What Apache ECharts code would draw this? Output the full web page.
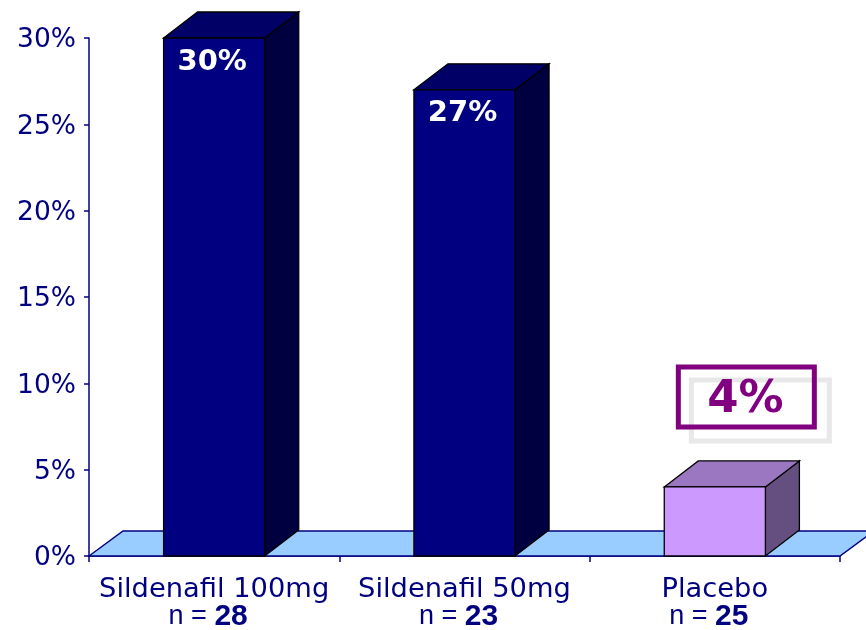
<!DOCTYPE html>
<html><head><meta charset="utf-8">
<script src="https://cdn.jsdelivr.net/npm/echarts@6/dist/echarts.min.js"></script>
<style>html,body{margin:0;padding:0;background:#fff}#c{width:866px;height:630px}</style>
</head><body><div id="c"></div>
<script>
// ---- data ----
const categories = ['Sildenafil 100mg', 'Sildenafil 50mg', 'Placebo'];
const sampleSizes = [28, 23, 25];
const responseRates = [30, 27, 4];
const yMin = 0, yMax = 30, yStep = 5;

// ---- styles ----
const barColors = [
  {front: '#000080', top: '#000066', side: '#000040'},
  {front: '#000080', top: '#000066', side: '#000040'},
  {front: '#CC99FF', top: '#9A77C0', side: '#654E80'}
];
const labelKinds = ['inside', 'inside', 'boxed'];
const DX = 34, DY = -26;
const NAVY = '#000080';

const chart = echarts.init(document.getElementById('c'), null, {renderer: 'canvas'});

function floorItem(params, api) {
  const cs = params.coordSys;
  const x = cs.x, y = cs.y + cs.height, w = cs.width;
  return {
    type: 'polygon',
    shape: {points: [[x, y], [x + DX, y + DY + 1], [x + w + DX, y + DY + 1], [x + w, y]]},
    style: {fill: '#99CCFF', stroke: NAVY, lineWidth: 1.5}
  };
}

function barItem(params, api) {
  const i = api.value(0), v = api.value(1);
  const top = api.coord([i, v]);
  const base = api.coord([i, 0]);
  const w = api.size([1, 0])[0] * 0.404;
  const x0 = top[0] - w / 2, x1 = top[0] + w / 2;
  const yt = top[1], yb = base[1];
  const c = barColors[i];
  const stroke = {stroke: '#000', lineWidth: 1.3};
  const children = [
    {type: 'polygon', shape: {points: [[x1, yt], [x1 + DX, yt + DY], [x1 + DX, yb + DY], [x1, yb]]},
     style: Object.assign({fill: c.side}, stroke)},
    {type: 'polygon', shape: {points: [[x0, yt], [x0 + DX, yt + DY], [x1 + DX, yt + DY], [x1, yt]]},
     style: Object.assign({fill: c.top}, stroke)},
    {type: 'rect', shape: {x: x0, y: yt, width: w, height: yb - yt},
     style: Object.assign({fill: c.front}, stroke)}
  ];
  const txt = v + '%';
  if (labelKinds[i] === 'inside') {
    children.push({type: 'text', style: {
      text: txt, x: top[0] - 2, y: yt + 24, align: 'center', verticalAlign: 'middle',
      fill: '#fff', font: 'bold 29px "DejaVu Sans"'}});
  } else {
    const cx = top[0] + 31.5, cy = yt - 90, bw = 136, bh = 60;
    children.push({type: 'rect', shape: {x: cx - bw / 2 + 13, y: cy - bh / 2 + 13, width: bw + 2, height: bh + 1},
      style: {fill: 'none', stroke: '#E8E8E8', lineWidth: 5}});
    children.push({type: 'rect', shape: {x: cx - bw / 2, y: cy - bh / 2, width: bw, height: bh},
      style: {fill: 'none', stroke: '#800080', lineWidth: 5}});
    children.push({type: 'text', style: {
      text: txt, x: cx - 1, y: cy + 3, align: 'center', verticalAlign: 'middle',
      fill: '#800080', font: 'bold 45px "DejaVu Sans"'}});
  }
  return {type: 'group', children: children};
}

chart.setOption({
  animation: false,
  backgroundColor: '#fff',
  grid: {left: 89, right: 26, top: 38, bottom: 74, containLabel: false, outerBoundsMode: 'none'},
  xAxis: {
    type: 'category',
    data: categories,
    boundaryGap: true,
    axisLine: {show: true, lineStyle: {color: NAVY, width: 1.5}},
    axisTick: {show: true, length: 6, interval: 0, lineStyle: {color: NAVY, width: 1.5}},
    axisLabel: {
      interval: 0, margin: 20,
      formatter: function (val, idx) {
        return '{a|' + val + '}\n{b|n = }{c|' + sampleSizes[idx] + '}{d|}';
      },
      rich: {
        a: {fontFamily: 'DejaVu Sans', fontSize: 27.3, color: NAVY, lineHeight: 27},
        b: {fontFamily: 'Liberation Sans', fontSize: 27, color: NAVY, lineHeight: 27},
        c: {fontFamily: 'Liberation Sans', fontSize: 30, fontWeight: 'bold', color: NAVY, lineHeight: 27},
        d: {width: 12, lineHeight: 27}
      }
    },
    splitLine: {show: false}
  },
  yAxis: {
    type: 'value', min: yMin, max: yMax, interval: yStep,
    axisLine: {show: true, lineStyle: {color: NAVY, width: 1.5}},
    axisTick: {show: true, length: 5, lineStyle: {color: NAVY, width: 1.5}},
    axisLabel: {
      margin: 13,
      formatter: function (v) { return '{v|' + v + '%}'; },
      rich: {v: {fontFamily: 'DejaVu Sans', fontSize: 26.5, color: NAVY, padding: [5, 0, 0, 0]}}
    },
    splitLine: {show: false}
  },
  series: [
    {type: 'custom', name: 'floor', renderItem: floorItem, data: [[0, 0]], z: 1, silent: true, clip: false},
    {type: 'custom', name: 'bars', renderItem: barItem,
     data: responseRates.map((v, i) => [i, v]), encode: {x: 0, y: 1}, z: 3, clip: false}
  ]
});
</script></body></html>
